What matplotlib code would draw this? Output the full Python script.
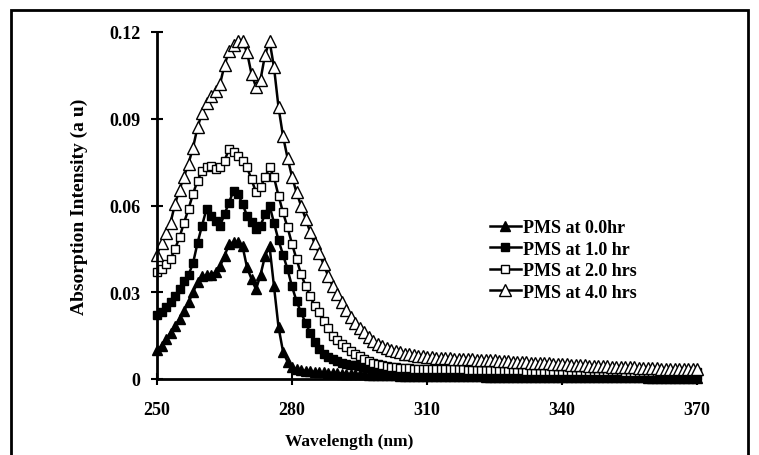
import matplotlib
matplotlib.use("Agg")
import matplotlib.pyplot as plt
from matplotlib.patches import Rectangle

plt.rcParams['font.family'] = ['Liberation Serif', 'DejaVu Serif']
plt.rcParams['font.weight'] = 'bold'

wavelength = list(range(250, 371))

pms_0hr = [
    0.0100, 0.0115, 0.0138, 0.0160, 0.0184, 0.0207, 0.0236, 0.0265, 0.0300, 0.0334,
    0.0355, 0.0358, 0.0360, 0.0369, 0.0390, 0.0425, 0.0467, 0.0473, 0.0473, 0.0460,
    0.0386, 0.0346, 0.0310, 0.0360, 0.0425, 0.0460, 0.0320, 0.0180, 0.0095, 0.0060,
    0.0040, 0.0034, 0.0030, 0.0028, 0.0026, 0.0025, 0.0024, 0.0023, 0.0022, 0.0021,
    0.0020, 0.0019, 0.0018, 0.0017, 0.0017, 0.0016, 0.0016, 0.0015, 0.0015, 0.0014,
    0.0014, 0.0013, 0.0013, 0.0013, 0.0012, 0.0012, 0.0012, 0.0011, 0.0011, 0.0011,
    0.0011, 0.0010, 0.0010, 0.0010, 0.0010, 0.0010, 0.0009, 0.0009, 0.0009, 0.0009,
    0.0009, 0.0009, 0.0009, 0.0008, 0.0008, 0.0008, 0.0008, 0.0008, 0.0008, 0.0008,
    0.0008, 0.0008, 0.0008, 0.0007, 0.0007, 0.0007, 0.0007, 0.0007, 0.0007, 0.0007,
    0.0007, 0.0007, 0.0007, 0.0007, 0.0007, 0.0006, 0.0006, 0.0006, 0.0006, 0.0006,
    0.0006, 0.0006, 0.0006, 0.0006, 0.0006, 0.0006, 0.0006, 0.0006, 0.0006, 0.0005,
    0.0005, 0.0005, 0.0005, 0.0005, 0.0005, 0.0005, 0.0005, 0.0005, 0.0005, 0.0005,
    0.0005,
]

pms_1hr = [
    0.0220, 0.0230, 0.0248, 0.0265, 0.0288, 0.0310, 0.0340, 0.0360, 0.0400, 0.0470,
    0.0530, 0.0588, 0.0565, 0.0547, 0.0530, 0.0570, 0.0610, 0.0651, 0.0640, 0.0605,
    0.0565, 0.0542, 0.0520, 0.0530, 0.0570, 0.0600, 0.0540, 0.0480, 0.0430, 0.0380,
    0.0320, 0.0270, 0.0230, 0.0195, 0.0160, 0.0127, 0.0105, 0.0088, 0.0075, 0.0068,
    0.0062, 0.0057, 0.0053, 0.0050, 0.0047, 0.0044, 0.0041, 0.0038, 0.0035, 0.0032,
    0.0030, 0.0029, 0.0028, 0.0027, 0.0026, 0.0025, 0.0024, 0.0023, 0.0023, 0.0022,
    0.0022, 0.0021, 0.0021, 0.0021, 0.0020, 0.0020, 0.0020, 0.0020, 0.0019, 0.0019,
    0.0019, 0.0019, 0.0018, 0.0018, 0.0018, 0.0018, 0.0017, 0.0017, 0.0017, 0.0017,
    0.0016, 0.0016, 0.0016, 0.0016, 0.0016, 0.0015, 0.0015, 0.0015, 0.0015, 0.0015,
    0.0015, 0.0014, 0.0014, 0.0014, 0.0014, 0.0014, 0.0014, 0.0013, 0.0013, 0.0013,
    0.0013, 0.0013, 0.0013, 0.0013, 0.0012, 0.0012, 0.0012, 0.0012, 0.0012, 0.0012,
    0.0012, 0.0012, 0.0011, 0.0011, 0.0011, 0.0011, 0.0011, 0.0011, 0.0011, 0.0011,
    0.0011,
]

pms_2hr = [
    0.0370, 0.0380, 0.0398, 0.0415, 0.0450, 0.0490, 0.0540, 0.0588, 0.0640, 0.0686,
    0.0720, 0.0732, 0.0738, 0.0726, 0.0732, 0.0755, 0.0795, 0.0784, 0.0772, 0.0755,
    0.0732, 0.0690, 0.0646, 0.0663, 0.0697, 0.0732, 0.0697, 0.0634, 0.0576, 0.0525,
    0.0467, 0.0415, 0.0363, 0.0323, 0.0288, 0.0253, 0.0230, 0.0200, 0.0175, 0.0150,
    0.0135, 0.0122, 0.0110, 0.0098, 0.0088, 0.0078, 0.0070, 0.0063, 0.0057, 0.0052,
    0.0048, 0.0045, 0.0042, 0.0040, 0.0039, 0.0038, 0.0037, 0.0036, 0.0036, 0.0035,
    0.0035, 0.0035, 0.0034, 0.0034, 0.0034, 0.0033, 0.0033, 0.0033, 0.0033, 0.0032,
    0.0032, 0.0032, 0.0032, 0.0031, 0.0031, 0.0031, 0.0031, 0.0030, 0.0030, 0.0030,
    0.0030, 0.0030, 0.0029, 0.0029, 0.0029, 0.0029, 0.0029, 0.0028, 0.0028, 0.0028,
    0.0028, 0.0028, 0.0027, 0.0027, 0.0027, 0.0027, 0.0027, 0.0027, 0.0026, 0.0026,
    0.0026, 0.0026, 0.0026, 0.0026, 0.0025, 0.0025, 0.0025, 0.0025, 0.0025, 0.0025,
    0.0025, 0.0024, 0.0024, 0.0024, 0.0024, 0.0024, 0.0024, 0.0024, 0.0024, 0.0024,
    0.0024,
]

pms_4hr = [
    0.0430, 0.0470, 0.0505, 0.0540, 0.0605, 0.0655, 0.0700, 0.0745, 0.0800, 0.0870,
    0.0920, 0.0955, 0.0980, 0.0995, 0.1020, 0.1085, 0.1135, 0.1155, 0.1170, 0.1170,
    0.1130, 0.1055, 0.1010, 0.1035, 0.1120, 0.1170, 0.1078, 0.0940, 0.0840, 0.0765,
    0.0700, 0.0645, 0.0600, 0.0555, 0.0510, 0.0470, 0.0435, 0.0398, 0.0357, 0.0323,
    0.0295, 0.0265, 0.0237, 0.0215, 0.0192, 0.0175, 0.0162, 0.0145, 0.0132, 0.0121,
    0.0113, 0.0106, 0.0100, 0.0096, 0.0092, 0.0088, 0.0085, 0.0082, 0.0080, 0.0078,
    0.0076, 0.0075, 0.0074, 0.0073, 0.0072, 0.0071, 0.0070, 0.0070, 0.0069, 0.0068,
    0.0068, 0.0067, 0.0066, 0.0066, 0.0065, 0.0064, 0.0063, 0.0062, 0.0061, 0.0060,
    0.0060, 0.0059, 0.0058, 0.0057, 0.0056, 0.0055, 0.0054, 0.0054, 0.0053, 0.0052,
    0.0052, 0.0051, 0.0050, 0.0049, 0.0048, 0.0047, 0.0046, 0.0046, 0.0045, 0.0044,
    0.0044, 0.0043, 0.0042, 0.0042, 0.0041, 0.0040, 0.0040, 0.0039, 0.0038, 0.0038,
    0.0037, 0.0037, 0.0036, 0.0036, 0.0035, 0.0035, 0.0034, 0.0034, 0.0033, 0.0033,
    0.0033,
]

labels = ["PMS at 0.0hr", "PMS at 1.0 hr", "PMS at 2.0 hrs", "PMS at 4.0 hrs"]
x_ticks = [250, 280, 310, 340, 370]
y_ticks = [0, 0.03, 0.06, 0.09, 0.12]
y_ticklabels = ["0", "0.03", "0.06", "0.09", "0.12"]

fig = plt.figure(figsize=(7.59, 4.56), dpi=100)
ax = fig.add_axes([157/759, 1-380/456, (697-157)/759, (380-33)/456])

styles = [
    dict(marker='^', markersize=7.5, markerfacecolor='black', markeredgecolor='black'),
    dict(marker='s', markersize=5.5, markerfacecolor='black', markeredgecolor='black'),
    dict(marker='s', markersize=5.5, markerfacecolor='white', markeredgecolor='black'),
    dict(marker='^', markersize=8.5, markerfacecolor='white', markeredgecolor='black'),
]
series = [pms_0hr, pms_1hr, pms_2hr, pms_4hr]
for ys, lab, st in zip(series, labels, styles):
    ax.plot(wavelength, ys, color='black', linewidth=1.8, markeredgewidth=1.0,
            label=lab, clip_on=False, **st)

ax.set_xlim(250, 370)
ax.set_ylim(0, 0.12)
ax.set_xticks(x_ticks)
ax.set_xticklabels([str(t) for t in x_ticks])
ax.set_yticks(y_ticks)
ax.set_yticklabels(y_ticklabels)
for s in ['top', 'right']:
    ax.spines[s].set_visible(False)
for s in ['left', 'bottom']:
    ax.spines[s].set_linewidth(2)
ax.tick_params(direction='inout', length=8, width=1.5, labelsize=13)
for lbl in ax.get_xticklabels() + ax.get_yticklabels():
    lbl.set_fontweight('bold')
ax.tick_params(axis='x', pad=12)
ax.tick_params(axis='y', pad=8)

ax.set_xlabel("Wavelength (nm)", fontsize=12.5, fontweight='bold')
ax.xaxis.set_label_coords((349-157)/540, (380-434)/347)
ax.set_ylabel("Absorption Intensity (a u)", fontsize=14, fontweight='bold')
ax.yaxis.set_label_coords((88-157)/540, 0.5)

leg = ax.legend(loc='center left', bbox_to_anchor=((490-157)/540, (380-261)/347),
                frameon=False, fontsize=13, handlelength=1.7, handletextpad=0.15,
                labelspacing=0.25, borderpad=0, borderaxespad=0)
for t in leg.get_texts():
    t.set_fontweight('bold')

fig.patches.append(Rectangle((11/759, -0.05), (748-11)/759, 1.05 - 11/456,
                             transform=fig.transFigure, fill=False,
                             edgecolor='black', linewidth=2))

fig.savefig("out.png", dpi=100)
